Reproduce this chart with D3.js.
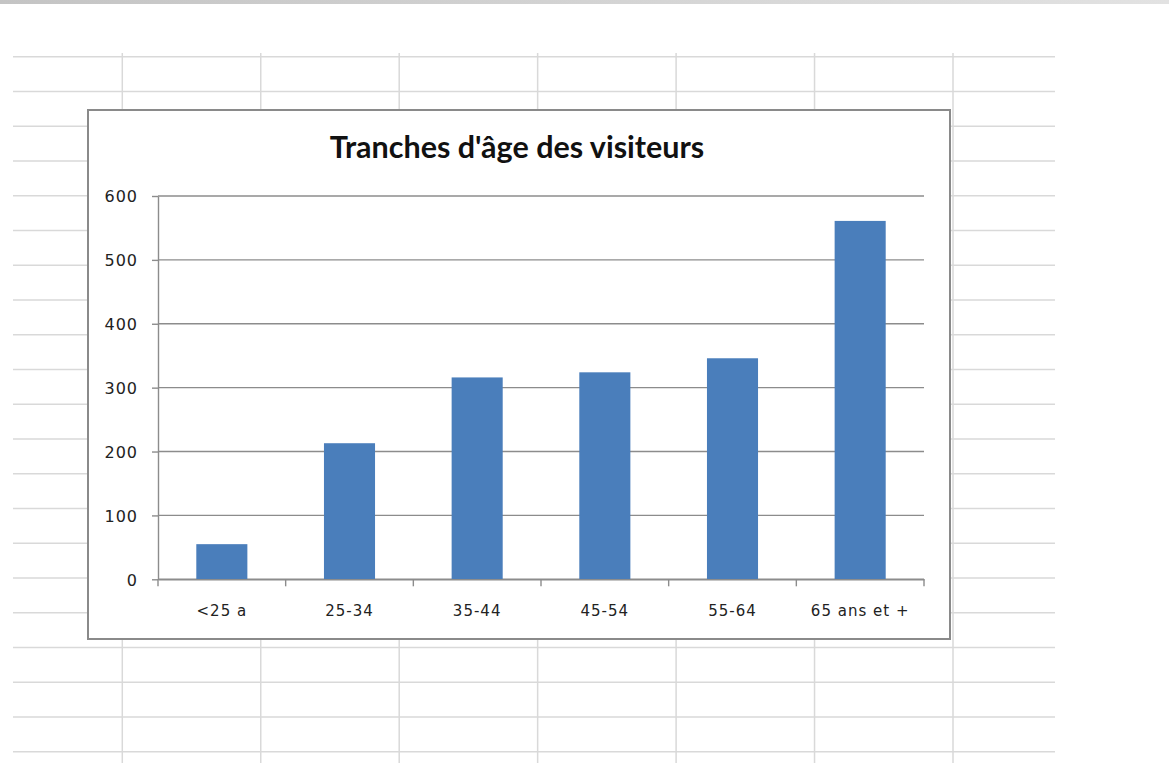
<!DOCTYPE html>
<html>
<head>
<meta charset="utf-8">
<script src="https://cdn.jsdelivr.net/npm/d3@7"></script>
<style>
  body { margin: 0; background: #fff; }
</style>
</head>
<body>
<div id="vis1"></div>
<script>
// data
const categories = ["<25 a", "25-34", "35-44", "45-54", "55-64", "65 ans et +"];
const visitors = [55, 213, 316, 324, 346, 561];
const yTicks = [0, 100, 200, 300, 400, 500, 600];
const chartTitle = "Tranches d'âge des visiteurs";

((() => {
  const W = 1169, H = 778;
  // chart box and plot area
  const box = {left: 88, top: 110, right: 950, bottom: 639};
  const plot = {left: 158, right: 924, top: 196, bottom: 579.3};

  const svg = d3.select('#vis1')
    .append('svg')
    .attr('width', W)
    .attr('height', H)
    .style('display', 'block');

  // top grey band of the window
  const grad = svg.append('defs').append('linearGradient')
    .attr('id', 'band').attr('x1', 0).attr('x2', 1).attr('y1', 0).attr('y2', 0);
  grad.append('stop').attr('offset', 0).attr('stop-color', '#c4c4c4');
  grad.append('stop').attr('offset', 1).attr('stop-color', '#e2e2e2');
  svg.append('rect')
    .attr('x', 0).attr('y', 0)
    .attr('width', W).attr('height', 4)
    .attr('fill', 'url(#band)');

  // spreadsheet cells behind the chart
  const sheet = svg.append('g').attr('stroke', '#d9d9d9').attr('stroke-width', 1.5);
  sheet.selectAll('line.row')
    .data(d3.range(21))
    .join('line')
      .attr('class', 'row')
      .attr('x1', 13).attr('x2', 1055)
      .attr('y1', i => 56.7 + i * 34.75)
      .attr('y2', i => 56.7 + i * 34.75);
  sheet.selectAll('line.col')
    .data(d3.range(7))
    .join('line')
      .attr('class', 'col')
      .attr('x1', i => 122.3 + i * 138.45)
      .attr('x2', i => 122.3 + i * 138.45)
      .attr('y1', 53).attr('y2', 763);

  // chart box
  svg.append('rect')
    .attr('x', box.left).attr('y', box.top)
    .attr('width', box.right - box.left)
    .attr('height', box.bottom - box.top)
    .attr('fill', '#fff')
    .attr('stroke', '#8a8a8a')
    .attr('stroke-width', 2);

  // title
  svg.append('text')
    .attr('x', 517)
    .attr('y', 158)
    .attr('text-anchor', 'middle')
    .style('font-family', 'Lato, "Open Sans", sans-serif')
    .style('font-weight', 'bold')
    .style('font-size', '30.5px')
    .style('fill', '#111')
    .text(chartTitle);

  const x = d3.scaleBand()
    .domain(categories)
    .range([plot.left, plot.right])
    .paddingInner(0.6)
    .paddingOuter(0.3);

  const y = d3.scaleLinear()
    .domain([0, 600])
    .range([plot.bottom, plot.top]);

  // horizontal gridlines
  svg.append('g')
    .selectAll('line')
    .data(yTicks)
    .join('line')
      .attr('x1', plot.left).attr('x2', plot.right)
      .attr('y1', d => y(d)).attr('y2', d => y(d))
      .attr('stroke', '#8c8c8c')
      .attr('stroke-width', 1.4);

  // bars
  svg.append('g')
    .selectAll('rect')
    .data(visitors)
    .join('rect')
      .attr('x', (d, i) => x(categories[i]))
      .attr('y', d => y(d))
      .attr('width', x.bandwidth())
      .attr('height', d => y(0) - y(d))
      .attr('fill', '#4a7ebb');

  const labelStyle = (g, size) => g
    .style('font-family', '"DejaVu Sans", sans-serif')
    .style('font-size', size)
    .style('letter-spacing', '1px')
    .style('fill', '#222');

  // Y axis
  const yAxis = svg.append('g')
    .attr('transform', `translate(${plot.left},0)`)
    .call(d3.axisLeft(y).tickValues(yTicks).tickSize(6).tickPadding(14).tickSizeOuter(0));
  yAxis.select('.domain').attr('stroke', '#8c8c8c').attr('stroke-width', 1.4);
  yAxis.selectAll('.tick line').attr('stroke', '#8c8c8c').attr('stroke-width', 1.4);
  yAxis.selectAll('.tick text').call(labelStyle, '16px').attr('dy', '0.36em');

  // X axis (labels centred on bands, tick marks on band boundaries)
  const xAxis = svg.append('g')
    .attr('transform', `translate(0,${y(0)})`)
    .call(d3.axisBottom(x).tickSize(0).tickPadding(26));
  xAxis.select('.domain').attr('stroke', '#8c8c8c').attr('stroke-width', 1.4);
  xAxis.selectAll('.tick text').call(labelStyle, '15px');

  xAxis.selectAll('line.bound')
    .data(d3.range(categories.length + 1))
    .join('line')
      .attr('class', 'bound')
      .attr('x1', i => plot.left + i * x.step())
      .attr('x2', i => plot.left + i * x.step())
      .attr('y1', 0).attr('y2', 7)
      .attr('stroke', '#8c8c8c')
      .attr('stroke-width', 1.4);
})());
</script>
</body>
</html>
